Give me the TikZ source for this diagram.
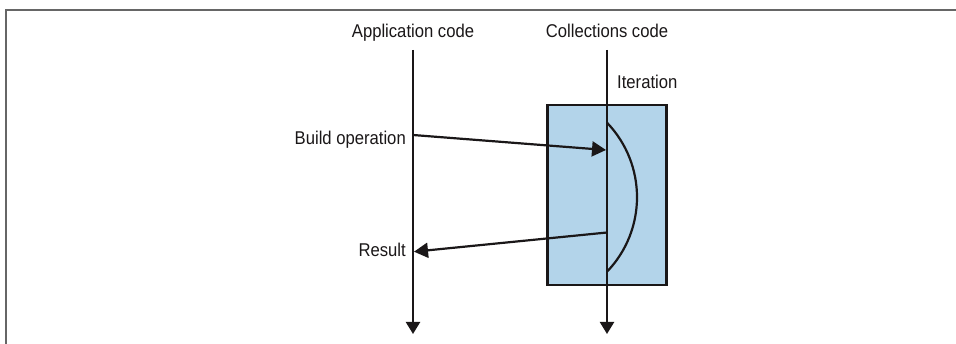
\documentclass[tikz,border=0pt]{standalone}
\usepackage{fontspec}
\setmainfont{Liberation Sans}[FakeStretch=0.9]
\usetikzlibrary{arrows.meta}
\definecolor{boxblue}{HTML}{B3D4EA}
\definecolor{txt}{HTML}{1A1718}
\definecolor{framegray}{HTML}{666666}
\begin{document}
\begin{tikzpicture}[x=1pt,y=-1pt,
  lbl/.style={inner sep=0pt, text=txt, font=\fontsize{18.5}{22}\selectfont},
  flow/.style={line width=2.2pt, draw=txt},
  downarr/.style={flow, -{Triangle[length=12pt,width=14pt]}},
  msgarr/.style={flow, -{Triangle[length=14pt,width=15pt]}},
  iterbox/.style={draw=txt, line width=2.2pt, fill=boxblue}]
\useasboundingbox (0,0) rectangle (956,344);
\draw[framegray, line width=1.5pt] (6,345) -- (6,10) -- (957,10);
% box
\node[iterbox, minimum width=119pt, minimum height=180pt, inner sep=0pt] (box) at (607,195) {};
% coordinates
\coordinate (apptop) at (413,50);
\coordinate (appbot) at (413,334);
\coordinate (coltop) at (607,50);
\coordinate (colbot) at (607,334);
\coordinate (bstart) at (413,135);
\coordinate (bend) at (606,150);
\coordinate (rstart) at (607,232.5);
\coordinate (rend) at (414,251.7);
\coordinate (arctop) at (607,122.7);
\coordinate (arcbot) at (607,271.7);
% labels
\node[lbl, anchor=base] (applbl) at (413,37.5) {Application code};
\node[lbl, anchor=base] (collbl) at (607,37.5) {Collections code};
\node[lbl, anchor=base west] (iterlbl) at (617,88.5) {Iteration};
\node[lbl, anchor=base east] (buildlbl) at (406,145) {Build operation};
\node[lbl, anchor=base east] (reslbl) at (406,257) {Result};
% arc
\draw[flow] (arctop) .. controls (647,164.3) and (647,230.1) .. (arcbot);
% lifelines
\draw[downarr] (apptop) -- (appbot);
\draw[downarr] (coltop) -- (colbot);
% messages
\draw[msgarr] (bstart) -- (bend);
\draw[msgarr] (rstart) -- (rend);
\end{tikzpicture}
\end{document}
